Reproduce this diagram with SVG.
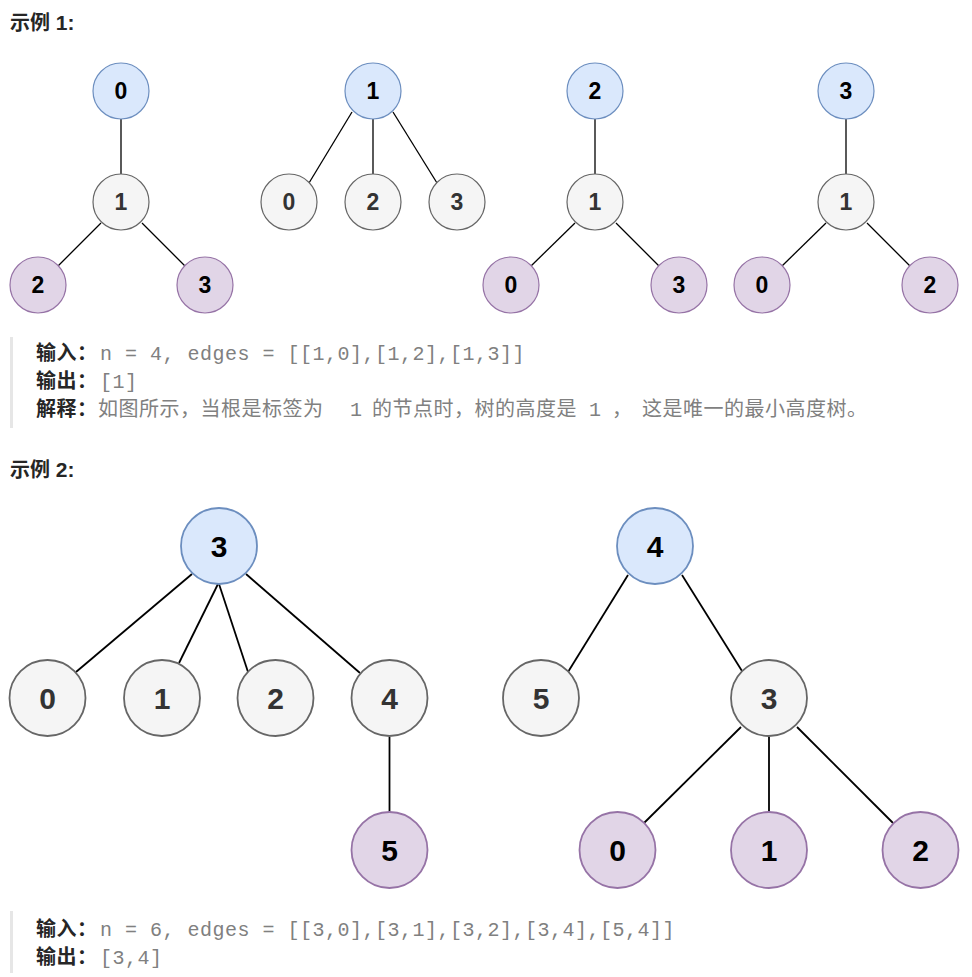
<svg xmlns="http://www.w3.org/2000/svg" width="972" height="977" viewBox="0 0 972 977">
<style>
.h{font-family:"Noto Sans CJK SC","Liberation Sans",sans-serif;font-weight:bold;font-size:20px;fill:#262626}
.hd{font-family:"Liberation Sans",Arial,sans-serif;font-size:21px}
.lb{font-family:"Noto Sans CJK SC",sans-serif;font-weight:bold;font-size:20px;fill:#262626;letter-spacing:0.5px}
.cj{font-family:"Noto Sans CJK SC",sans-serif;font-size:20px;fill:#808080;letter-spacing:0.5px}
.mo{font-family:"Liberation Mono","DejaVu Sans Mono",monospace;font-size:20px;fill:#808080;letter-spacing:0.5px}
.bar{fill:#e6e6e6}
.blue{fill:#dae8fc;stroke:#6c8ebf}
.gray{fill:#f5f5f5;stroke:#666666}
.purp{fill:#e1d5e7;stroke:#9673a6}
.s1 circle{stroke-width:1.2}
.s2 circle{stroke-width:1.8}
.n1{font-family:"Liberation Sans",Arial,sans-serif;font-weight:bold;font-size:23px;text-anchor:middle}
.n2{font-family:"Liberation Sans",Arial,sans-serif;font-weight:bold;font-size:30px;text-anchor:middle}
.dk{fill:#000}
.gt{fill:#333}
.e1 line{stroke:#000;stroke-width:1.3}
.e2 line{stroke:#000;stroke-width:1.8}
</style>
<rect width="972" height="977" fill="#fff"/>

<g id="text-ex1">
<text class="h" x="10" y="30">示例<tspan class="hd"> 1:</tspan></text>
<rect class="bar" x="10" y="337" width="3" height="91"/>
<text class="lb" x="36" y="360">输入：</text>
<text class="mo" x="100" y="360">n = 4, edges = [[1,0],[1,2],[1,3]]</text>
<text class="lb" x="36" y="388">输出：</text>
<text class="mo" x="100" y="388">[1]</text>
<text class="lb" x="36" y="416">解释：</text>
<text class="cj" x="98" y="416">如图所示，当根是标签为</text>
<text class="mo" x="350" y="416">1</text>
<text class="cj" x="372" y="416">的节点时，树的高度是</text>
<text class="mo" x="589" y="416">1</text>
<text class="cj" x="612" y="416">，</text>
<text class="cj" x="642" y="416">这是唯一的最小高度树。</text>
</g>

<g id="text-ex2">
<text class="h" x="10" y="477">示例<tspan class="hd"> 2:</tspan></text>
<rect class="bar" x="10" y="911" width="3" height="62"/>
<text class="lb" x="36" y="936">输入：</text>
<text class="mo" x="100" y="936">n = 6, edges = [[3,0],[3,1],[3,2],[3,4],[5,4]]</text>
<text class="lb" x="36" y="964">输出：</text>
<text class="mo" x="100" y="964">[3,4]</text>
</g>

<g id="edges-ex1" class="e1">
<line x1="121" y1="119" x2="121" y2="174"/>
<line x1="101" y1="223" x2="58" y2="266"/>
<line x1="142" y1="223" x2="185" y2="266"/>
<line x1="352" y1="112" x2="309" y2="183"/>
<line x1="373" y1="119" x2="373" y2="174"/>
<line x1="393" y1="112" x2="437" y2="183"/>
<line x1="595" y1="119" x2="595" y2="174"/>
<line x1="575" y1="223" x2="531" y2="266"/>
<line x1="616" y1="223" x2="659" y2="266"/>
<line x1="846" y1="119" x2="846" y2="174"/>
<line x1="826" y1="223" x2="782" y2="266"/>
<line x1="867" y1="223" x2="910" y2="266"/>
</g>

<g id="edges-ex2" class="e2">
<line x1="192" y1="574" x2="76" y2="672"/>
<line x1="218" y1="584" x2="179" y2="663"/>
<line x1="219" y1="584" x2="248" y2="672"/>
<line x1="246" y1="574" x2="360" y2="673"/>
<line x1="389.5" y1="737" x2="389.5" y2="812"/>
<line x1="628" y1="575" x2="568" y2="672"/>
<line x1="682" y1="575" x2="742" y2="671"/>
<line x1="741" y1="727" x2="644" y2="823"/>
<line x1="769" y1="737" x2="769" y2="812"/>
<line x1="797" y1="727" x2="893" y2="823"/>
</g>

<g class="s1">
<g id="t1-n0"><circle class="blue" cx="121" cy="91" r="28"/><text class="n1 dk" x="121" y="99">0</text></g>
<g id="t1-n1"><circle class="gray" cx="121" cy="202" r="28"/><text class="n1 gt" x="121" y="210">1</text></g>
<g id="t1-n2"><circle class="purp" cx="38" cy="285" r="28"/><text class="n1 dk" x="38" y="293">2</text></g>
<g id="t1-n3"><circle class="purp" cx="205" cy="285" r="28"/><text class="n1 dk" x="205" y="293">3</text></g>

<g id="t2-n1"><circle class="blue" cx="373" cy="91" r="28"/><text class="n1 dk" x="373" y="99">1</text></g>
<g id="t2-n0"><circle class="gray" cx="289" cy="202" r="28"/><text class="n1 gt" x="289" y="210">0</text></g>
<g id="t2-n2"><circle class="gray" cx="373" cy="202" r="28"/><text class="n1 gt" x="373" y="210">2</text></g>
<g id="t2-n3"><circle class="gray" cx="457" cy="202" r="28"/><text class="n1 gt" x="457" y="210">3</text></g>

<g id="t3-n2"><circle class="blue" cx="595" cy="91" r="28"/><text class="n1 dk" x="595" y="99">2</text></g>
<g id="t3-n1"><circle class="gray" cx="595" cy="202" r="28"/><text class="n1 gt" x="595" y="210">1</text></g>
<g id="t3-n0"><circle class="purp" cx="511" cy="285" r="28"/><text class="n1 dk" x="511" y="293">0</text></g>
<g id="t3-n3"><circle class="purp" cx="679" cy="285" r="28"/><text class="n1 dk" x="679" y="293">3</text></g>

<g id="t4-n3"><circle class="blue" cx="846" cy="91" r="28"/><text class="n1 dk" x="846" y="99">3</text></g>
<g id="t4-n1"><circle class="gray" cx="846" cy="202" r="28"/><text class="n1 gt" x="846" y="210">1</text></g>
<g id="t4-n0"><circle class="purp" cx="762" cy="285" r="28"/><text class="n1 dk" x="762" y="293">0</text></g>
<g id="t4-n2"><circle class="purp" cx="930" cy="285" r="28"/><text class="n1 dk" x="930" y="293">2</text></g>
</g>

<g class="s2">
<g id="t5-n3"><circle class="blue" cx="219" cy="546" r="38"/><text class="n2 dk" x="219" y="557">3</text></g>
<g id="t5-n0"><circle class="gray" cx="47.5" cy="698" r="38"/><text class="n2 gt" x="47.5" y="709">0</text></g>
<g id="t5-n1"><circle class="gray" cx="162" cy="698" r="38"/><text class="n2 gt" x="162" y="709">1</text></g>
<g id="t5-n2"><circle class="gray" cx="275.5" cy="698" r="38"/><text class="n2 gt" x="275.5" y="709">2</text></g>
<g id="t5-n4"><circle class="gray" cx="389.5" cy="698" r="38"/><text class="n2 gt" x="389.5" y="709">4</text></g>
<g id="t5-n5"><circle class="purp" cx="389.5" cy="850" r="38"/><text class="n2 dk" x="389.5" y="861">5</text></g>

<g id="t6-n4"><circle class="blue" cx="655" cy="546" r="38"/><text class="n2 dk" x="655" y="557">4</text></g>
<g id="t6-n5"><circle class="gray" cx="541" cy="698" r="38"/><text class="n2 gt" x="541" y="709">5</text></g>
<g id="t6-n3"><circle class="gray" cx="769" cy="698" r="38"/><text class="n2 gt" x="769" y="709">3</text></g>
<g id="t6-n0"><circle class="purp" cx="617.5" cy="850" r="38"/><text class="n2 dk" x="617.5" y="861">0</text></g>
<g id="t6-n1"><circle class="purp" cx="769" cy="850" r="38"/><text class="n2 dk" x="769" y="861">1</text></g>
<g id="t6-n2"><circle class="purp" cx="920.5" cy="850" r="38"/><text class="n2 dk" x="920.5" y="861">2</text></g>
</g>
</svg>
